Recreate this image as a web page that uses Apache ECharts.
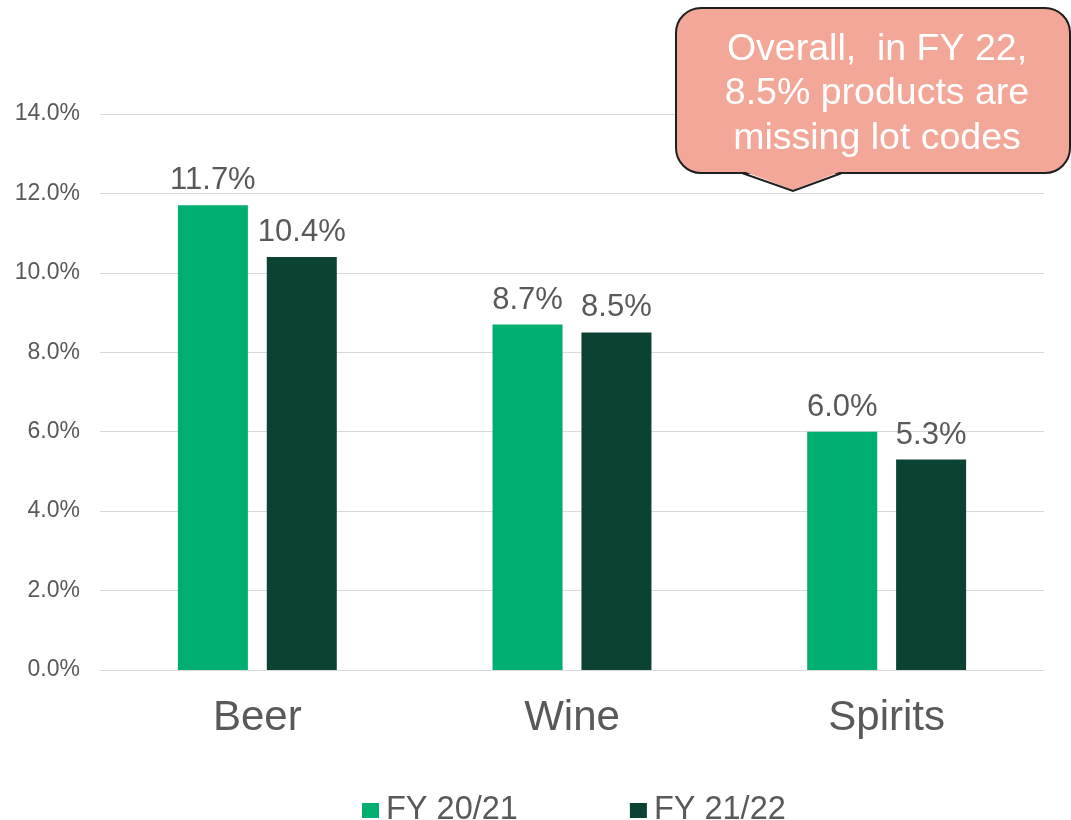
<!DOCTYPE html>
<html>
<head>
<meta charset="utf-8">
<script src="https://cdn.jsdelivr.net/npm/echarts@6/dist/echarts.min.js"></script>
<style>
  html, body { margin: 0; padding: 0; background: #fff; }
  #chart { width: 1071px; height: 820px; }
</style>
</head>
<body>
<div id="chart"></div>
<script>
const categories = ['Beer', 'Wine', 'Spirits'];
const seriesNames = ['FY 20/21', 'FY 21/22'];
const fy2021 = [11.7, 8.7, 6.0];
const fy2122 = [10.4, 8.5, 5.3];
const calloutLines = ['Overall,  in FY 22,', '8.5% products are', 'missing lot codes'];

const FONT = 'Liberation Sans, Arial, sans-serif';
const colors = ['#00AF6F', '#0C4234'];
const calloutFill = '#F2A799';
const calloutStroke = '#1F1F1F';

const chart = echarts.init(document.getElementById('chart'));

const labelStyle = {
  show: true,
  position: 'top',
  distance: 9,
  color: '#595959',
  fontSize: 31,
  fontFamily: FONT,
  formatter: (p) => p.value.toFixed(1) + '%',
};

chart.setOption({
  backgroundColor: '#fff',
  animation: false,
  grid: { left: 100, right: 27, top: 114, bottom: 150 },
  legend: {
    data: seriesNames,
    top: 789,
    left: 357,
    icon: 'rect',
    itemWidth: 17,
    itemHeight: 15,
    itemGap: 112,
    textStyle: { color: '#595959', fontSize: 32.5, fontFamily: FONT, padding: [0, 0, 0, 2] },
  },
  xAxis: {
    type: 'category',
    data: categories,
    axisLine: { lineStyle: { color: '#D9D9D9', width: 1 } },
    axisTick: { show: false },
    axisLabel: { color: '#595959', fontSize: 42, fontFamily: FONT, margin: 27 },
  },
  yAxis: {
    type: 'value',
    min: 0,
    max: 14,
    interval: 2,
    axisLine: { show: false },
    axisTick: { show: false },
    axisLabel: {
      color: '#595959',
      fontSize: 23,
      fontFamily: FONT,
      margin: 20,
      formatter: (v) => v.toFixed(1) + '%',
    },
    splitLine: { lineStyle: { color: '#D9D9D9', width: 1 } },
  },
  series: [
    {
      name: seriesNames[0],
      type: 'bar',
      data: fy2021,
      barWidth: 70,
      barGap: '27%',
      itemStyle: { color: colors[0] },
      label: labelStyle,
    },
    {
      name: seriesNames[1],
      type: 'bar',
      data: fy2122,
      barWidth: 70,
      itemStyle: { color: colors[1] },
      label: labelStyle,
    },
  ],
  graphic: [
    // callout box
    {
      type: 'rect',
      shape: { x: 676, y: 8, width: 394, height: 165, r: 25 },
      style: { fill: calloutFill, stroke: calloutStroke, lineWidth: 2 },
      z: 10,
    },
    // pointer fill (covers the box border under it)
    {
      type: 'polygon',
      shape: { points: [[743, 171], [842, 171], [793, 190]] },
      style: { fill: calloutFill },
      z: 11,
    },
    {
      type: 'polyline',
      shape: { points: [[742, 173], [793, 191], [842, 173]] },
      style: { fill: null, stroke: calloutStroke, lineWidth: 2 },
      z: 11,
    },
    {
      type: 'text',
      x: 877,
      y: 94,
      style: {
        text: calloutLines.join('\n'),
        fill: '#FFFFFF',
        fontSize: 37.5,
        fontFamily: FONT,
        lineHeight: 44.5,
        align: 'center',
        verticalAlign: 'middle',
      },
      z: 12,
    },
  ],
});
</script>
</body>
</html>
